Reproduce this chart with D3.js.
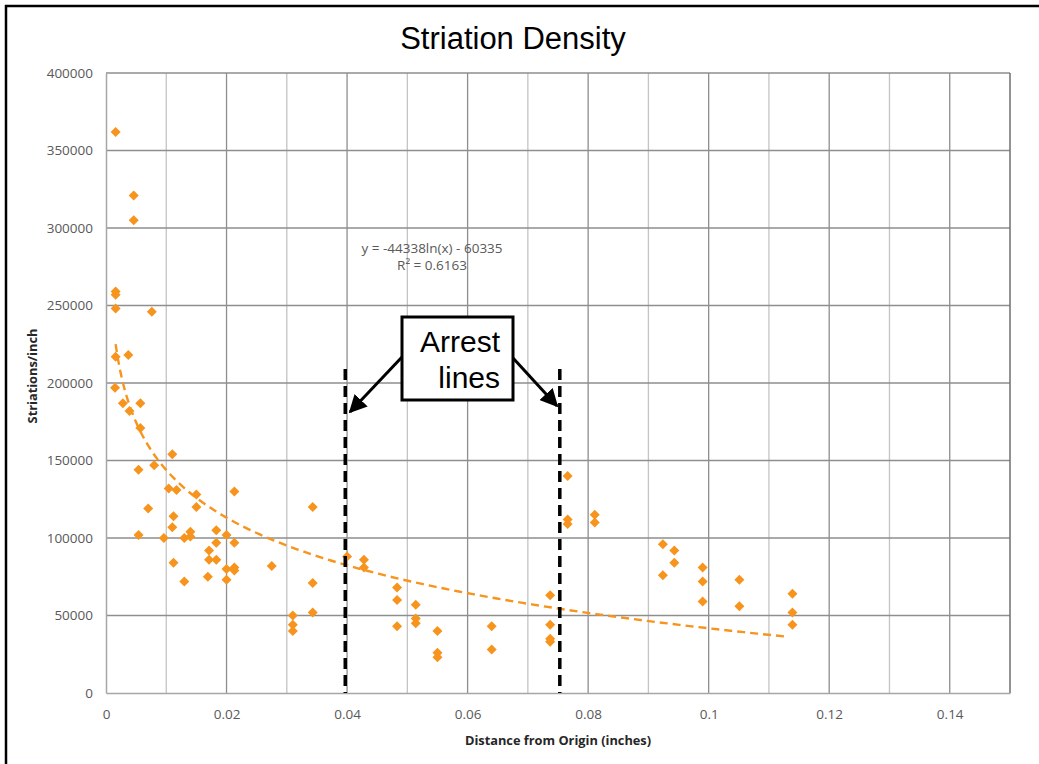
<!DOCTYPE html>
<html>
<head>
<meta charset="utf-8">
<script src="https://cdn.jsdelivr.net/npm/d3@7"></script>
<style>
    body { margin: 0; background: #fff; }
    .tick text { font-family: "Open Sans", sans-serif; font-size: 13.5px; fill: #595959; }
</style>
</head>
<body>
<script>
// distance from origin (inches) and striations/inch, read point by point
var distance = [
    0.0016, 0.0046, 0.0046, 0.0016, 0.0016, 0.0016, 0.0076, 0.0016, 0.0037, 0.0015,
    0.0028, 0.0057, 0.0039, 0.0057, 0.0110, 0.0054, 0.0080, 0.0104, 0.0117, 0.0150,
    0.0213, 0.0150, 0.0070, 0.0112, 0.0110, 0.0343, 0.0054, 0.0096, 0.0130, 0.0140,
    0.0140, 0.0183, 0.0200, 0.0183, 0.0213, 0.0171, 0.0171, 0.0183, 0.0112, 0.0275,
    0.0200, 0.0213, 0.0213, 0.0130, 0.0169, 0.0200, 0.0343, 0.0343, 0.0310, 0.0310,
    0.0310, 0.0400, 0.0428, 0.0428, 0.0483, 0.0483, 0.0483, 0.0514, 0.0514, 0.0514,
    0.0550, 0.0550, 0.0550, 0.0640, 0.0640, 0.0737, 0.0737, 0.0737, 0.0737, 0.0766,
    0.0766, 0.0766, 0.0811, 0.0811, 0.0924, 0.0943, 0.0943, 0.0924, 0.0990, 0.0990,
    0.0990, 0.1051, 0.1051, 0.1139, 0.1139, 0.1139
];
var striations = [
    362000, 321000, 305000, 259000, 257000, 248000, 246000, 217000, 218000, 197000,
    187000, 187000, 182000, 171000, 154000, 144000, 147000, 132000, 131000, 128000,
    130000, 120000, 119000, 114000, 107000, 120000, 102000, 100000, 100000, 104000,
    101000, 105000, 102000, 97000, 97000, 92000, 86000, 86000, 84000, 82000,
    80000, 81000, 79000, 72000, 75000, 73000, 71000, 52000, 50000, 44000,
    40000, 88000, 86000, 81000, 68000, 60000, 43000, 57000, 48000, 45000,
    40000, 26000, 23000, 43000, 28000, 63000, 44000, 35000, 33000, 140000,
    112000, 109000, 115000, 110000, 96000, 92000, 84000, 76000, 81000, 72000,
    59000, 73000, 56000, 64000, 52000, 44000
];

// excel log trendline: y = a*ln(x) + b
var trendA = -44338, trendB = -60335;
var trendRange = [0.0016, 0.1128];
var trendLabel = ["y = -44338ln(x) - 60335", "R² = 0.6163"];

var xTicks = [0, 0.02, 0.04, 0.06, 0.08, 0.1, 0.12, 0.14];
var xMinor = [0.01, 0.03, 0.05, 0.07, 0.09, 0.11, 0.13];
var yTicks = [0, 50000, 100000, 150000, 200000, 250000, 300000, 350000, 400000];

var arrestLines = [0.0397, 0.0753];
var arrestTop = 209000;

var margin = { top: 73, right: 29, bottom: 71, left: 106 },
    width = 1039 - margin.left - margin.right,
    height = 764 - margin.top - margin.bottom;

var orange = "#f7941d";

var svgRoot = d3.select("body").append("svg")
    .attr("width", 1039)
    .attr("height", 764);

// outer frame
svgRoot.append("rect")
    .attr("x", 6).attr("y", 6)
    .attr("width", 1050).attr("height", 780)
    .attr("fill", "none")
    .attr("stroke", "#000")
    .attr("stroke-width", 2.5);

svgRoot.append("text")
    .attr("x", 513).attr("y", 49)
    .attr("text-anchor", "middle")
    .style("font-family", "Liberation Sans, Arial, sans-serif")
    .style("font-size", "31px")
    .text("Striation Density");

var svg = svgRoot.append("g")
    .attr("transform", "translate(" + margin.left + "," + margin.top + ")");

var xScale = d3.scaleLinear().domain([0, 0.15]).range([0, width]);
var yScale = d3.scaleLinear().domain([0, 400000]).range([height, 0]);

// grid
svg.append("g").selectAll("line.minor")
    .data(xMinor)
    .enter().append("line")
    .attr("x1", function (d) { return xScale(d); })
    .attr("x2", function (d) { return xScale(d); })
    .attr("y1", 0).attr("y2", height)
    .attr("stroke", "#c4c4c4")
    .attr("stroke-width", 1.3);

svg.append("g").selectAll("line.major")
    .data(xTicks.slice(1))
    .enter().append("line")
    .attr("x1", function (d) { return xScale(d); })
    .attr("x2", function (d) { return xScale(d); })
    .attr("y1", 0).attr("y2", height)
    .attr("stroke", "#8e8e8e")
    .attr("stroke-width", 1.3);

svg.append("g").selectAll("line.hgrid")
    .data(yTicks.slice(1))
    .enter().append("line")
    .attr("x1", 0).attr("x2", width)
    .attr("y1", function (d) { return yScale(d); })
    .attr("y2", function (d) { return yScale(d); })
    .attr("stroke", "#8e8e8e")
    .attr("stroke-width", 1.3);

svg.append("line")
    .attr("x1", width).attr("x2", width)
    .attr("y1", 0).attr("y2", height)
    .attr("stroke", "#6f6f6f")
    .attr("stroke-width", 1.5);

// axes
var xAxis = d3.axisBottom(xScale).tickValues(xTicks).tickSize(0).tickPadding(16)
    .tickFormat(function (d) { return d3.format("~g")(d); });
var yAxis = d3.axisLeft(yScale).tickValues(yTicks).tickSize(0).tickPadding(13)
    .tickFormat(d3.format("d"));

svg.append("g")
    .attr("class", "xaxis")
    .attr("transform", "translate(0," + height + ")")
    .call(xAxis)
    .select(".domain").attr("stroke", "#a6a6a6").attr("stroke-width", 1.5);

svg.append("g")
    .attr("class", "yaxis")
    .call(yAxis)
    .select(".domain").attr("stroke", "#a6a6a6").attr("stroke-width", 1.5);

svgRoot.append("text")
    .attr("x", margin.left + width / 2).attr("y", 745)
    .attr("text-anchor", "middle")
    .style("font-family", "Open Sans, sans-serif")
    .style("font-weight", "bold")
    .style("font-size", "12.8px")
    .style("fill", "#262626")
    .text("Distance from Origin (inches)");

svgRoot.append("text")
    .attr("transform", "translate(37," + 376 + ") rotate(-90)")
    .attr("text-anchor", "middle")
    .style("font-family", "Open Sans, sans-serif")
    .style("font-weight", "bold")
    .style("font-size", "12.8px")
    .style("fill", "#262626")
    .text("Striations/inch");

// trendline
var trendPts = d3.range(0, 201).map(function (i) {
    var x = trendRange[0] * Math.pow(trendRange[1] / trendRange[0], i / 200);
    return [x, trendA * Math.log(x) + trendB];
});

var trendLine = d3.line()
    .x(function (d) { return xScale(d[0]); })
    .y(function (d) { return yScale(d[1]); });

svg.append("path")
    .datum(trendPts)
    .attr("class", "trend")
    .attr("fill", "none")
    .attr("stroke", orange)
    .attr("stroke-width", 2.4)
    .attr("stroke-dasharray", "8,5")
    .attr("d", trendLine);

// points
svg.append("g").selectAll("path.pt")
    .data(distance)
    .enter().append("path")
    .attr("class", "pt")
    .attr("transform", function (d, i) {
        return "translate(" + xScale(d) + "," + yScale(striations[i]) + ")";
    })
    .attr("d", d3.symbol().type(d3.symbolDiamond2).size(64))
    .attr("fill", orange);

svg.append("g").selectAll("text")
    .data(trendLabel)
    .enter().append("text")
    .attr("x", 326)
    .attr("y", function (d, i) { return 180 + i * 17; })
    .attr("text-anchor", "middle")
    .style("font-family", "Open Sans, sans-serif")
    .style("font-size", "13.5px")
    .style("fill", "#595959")
    .text(function (d) { return d; });

// arrest lines
svg.append("g").selectAll("line.arrest")
    .data(arrestLines)
    .enter().append("line")
    .attr("x1", function (d) { return xScale(d); })
    .attr("x2", function (d) { return xScale(d); })
    .attr("y1", yScale(arrestTop))
    .attr("y2", height)
    .attr("stroke", "#000")
    .attr("stroke-width", 3.5)
    .attr("stroke-dasharray", "11,6");

svgRoot.append("defs").append("marker")
    .attr("id", "arrow")
    .attr("viewBox", "0 0 10 10")
    .attr("refX", 9).attr("refY", 5)
    .attr("markerWidth", 6).attr("markerHeight", 6)
    .attr("orient", "auto")
    .append("path")
    .attr("d", "M0,0 L10,5 L0,10 Z")
    .attr("fill", "#000");

svgRoot.append("line")
    .attr("x1", 402).attr("y1", 357)
    .attr("x2", 350).attr("y2", 412)
    .attr("stroke", "#000").attr("stroke-width", 3)
    .attr("marker-end", "url(#arrow)");

svgRoot.append("line")
    .attr("x1", 513).attr("y1", 358)
    .attr("x2", 557).attr("y2", 406)
    .attr("stroke", "#000").attr("stroke-width", 3)
    .attr("marker-end", "url(#arrow)");

svgRoot.append("rect")
    .attr("x", 402).attr("y", 317)
    .attr("width", 111).attr("height", 83)
    .attr("fill", "#fff")
    .attr("stroke", "#000")
    .attr("stroke-width", 3);

svgRoot.append("text")
    .attr("text-anchor", "end")
    .style("font-family", "Liberation Sans, Arial, sans-serif")
    .style("font-size", "30px")
    .selectAll("tspan")
    .data(["Arrest", "lines"])
    .enter().append("tspan")
    .attr("x", 500)
    .attr("y", function (d, i) { return 352 + i * 36; })
    .text(function (d) { return d; });
</script>
</body>
</html>
